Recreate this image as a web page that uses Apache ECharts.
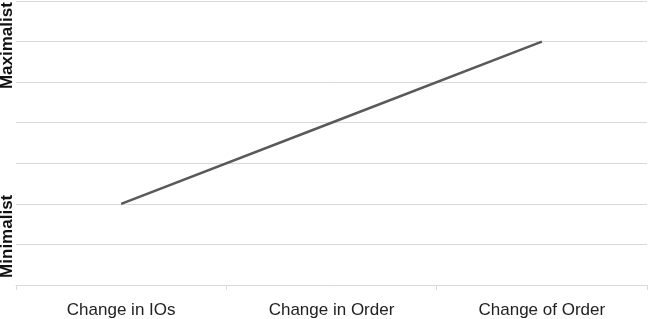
<!DOCTYPE html>
<html><head><meta charset="utf-8">
<script src="https://cdn.jsdelivr.net/npm/echarts@6/dist/echarts.min.js"></script>
<style>html,body{margin:0;padding:0;background:#fff}#c{width:648px;height:319px}</style>
</head><body><div id="c"></div>
<script>
const categories = ["Change in IOs", "Change in Order", "Change of Order"];
const values = [2, 4, 6];
const yLabels = ["Maximalist", "Minimalist"];
const yLabelValues = [5.9, 1.2];

const chart = echarts.init(document.getElementById('c'), null, {renderer: 'canvas'});
const option = {
  animation: false,
  grid: {left: 16, right: 1, top: 1, bottom: 33, containLabel: false},
  xAxis: {
    type: 'category', data: categories, boundaryGap: true,
    axisLine: {lineStyle: {color: '#d9d9d9', width: 1}},
    axisTick: {show: true, length: 5, lineStyle: {color: '#d9d9d9'}},
    axisLabel: {color: '#222', fontFamily: 'Liberation Sans', fontSize: 17, margin: 17}
  },
  yAxis: {
    type: 'value', min: 0, max: 7, interval: 1,
    axisLine: {show: false}, axisTick: {show: false}, axisLabel: {show: false},
    splitLine: {lineStyle: {color: '#d9d9d9', width: 1}}
  },
  series: [{
    type: 'line', data: values, symbol: 'none',
    lineStyle: {color: '#595959', width: 2.5}
  }]
};
chart.setOption(option);
const gfx = yLabels.map((t, i) => {
  const p = chart.convertToPixel({gridIndex: 0}, [0, yLabelValues[i]]);
  return {
    type: 'text', x: 7, y: p[1], rotation: Math.PI / 2,
    style: {text: t, fill: '#111', font: 'bold 17px "Liberation Sans"', align: 'center', verticalAlign: 'middle'}
  };
});
chart.setOption({graphic: gfx});
</script></body></html>
